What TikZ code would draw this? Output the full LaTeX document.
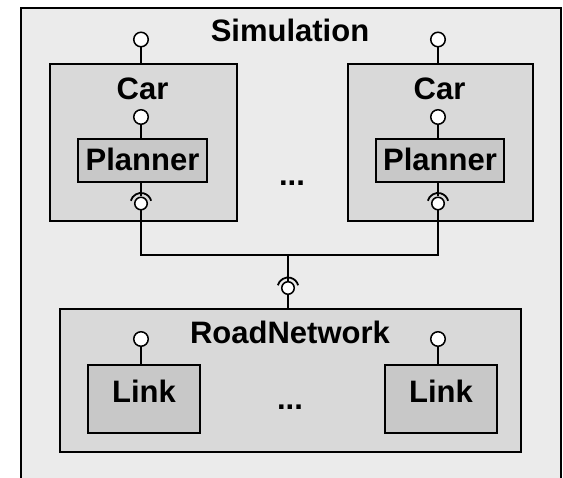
\documentclass[tikz,border=0pt]{standalone}
\usepackage{fontspec}
\setmainfont{Liberation Sans}
\definecolor{simfill}{HTML}{EBEBEB}
\definecolor{carfill}{HTML}{D9D9D9}
\definecolor{planfill}{HTML}{C8C8C8}
\begin{document}
\begin{tikzpicture}[x=1pt,y=1pt,
  every node/.style={font=\fontsize{31}{34}\selectfont\bfseries},
  box/.style={draw=black, line width=1.7pt, inner sep=0pt},
  ball/.style={circle, draw, fill=white, line width=1.5pt, minimum size=14.5pt, inner sep=0pt},
  sball/.style={circle, draw, fill=white, line width=1.5pt, minimum size=12.5pt, inner sep=0pt},
  wire/.style={line width=1.5pt},
  sock/.style={line width=1.8pt}]
\clip (0,0) rectangle (563,478);
\node[box, fill=simfill, line width=2.3pt, minimum width=540pt, minimum height=520pt, anchor=north west] (sim) at (20,471) {};
\node[anchor=base] (simtxt) at (290,436.5) {Simulation};
% left car
\node[box, fill=carfill, minimum width=187pt, minimum height=157pt] (car1) at (143.5,335.5) {};
\node[anchor=base] (cartxt1) at (142.5,378.5) {Car};
\node[ball] (pt1) at (141,438.5) {};
\draw[wire] (pt1) -- (pt1 |- car1.north);
\node[box, fill=planfill, minimum width=129pt, text height=31.5pt, text depth=12pt] (plan1) at (142.5,317.5) {Planner};
\node[ball] (pi1) at (141,361) {};
\draw[wire] (pi1) -- (pi1 |- plan1.north);
\node[sball] (sb1) at (141,274.5) {};
\draw[wire] (plan1.south -| sb1) -- (sb1);
\draw[sock] ([shift={(165:10.5)}]sb1.center) arc (165:15:10.5);
% right car
\node[box, fill=carfill, minimum width=185pt, minimum height=157pt] (car2) at (440.5,335.5) {};
\node[anchor=base] (cartxt2) at (439.5,378.5) {Car};
\node[ball] (pt2) at (438,438.5) {};
\draw[wire] (pt2) -- (pt2 |- car2.north);
\node[box, fill=planfill, minimum width=128pt, text height=31.5pt, text depth=12pt] (plan2) at (440,317.5) {Planner};
\node[ball] (pi2) at (438,361) {};
\draw[wire] (pi2) -- (pi2 |- plan2.north);
\node[sball] (sb2) at (438,274.5) {};
\draw[wire] (plan2.south -| sb2) -- (sb2);
\draw[sock] ([shift={(165:10.5)}]sb2.center) arc (165:15:10.5);
\node[anchor=base] (dots1) at (292,292) {...};
% bus
\coordinate (j1) at (141,223);
\coordinate (j2) at (438,223);
\coordinate (jm) at (288,223);
\draw[wire] (sb1) -- (j1) -- (j2) -- (sb2);
% road network
\node[box, fill=carfill, minimum width=461pt, minimum height=143pt] (road) at (290.5,97.5) {};
\node[anchor=base] (roadtxt) at (290,134) {RoadNetwork};
\node[sball] (sbm) at (288,190) {};
\draw[wire] (jm) -- (sbm);
\draw[wire] (sbm) -- (sbm |- road.north);
\draw[sock] ([shift={(165:10.5)}]sbm.center) arc (165:15:10.5);
\node[box, fill=planfill, minimum width=112pt, text height=37.5pt, text depth=31pt] (link1) at (144,79) {Link};
\node[ball] (pl1) at (141,139) {};
\draw[wire] (pl1) -- (pl1 |- link1.north);
\node[box, fill=planfill, minimum width=112pt, text height=37.5pt, text depth=31pt] (link2) at (441,79) {Link};
\node[ball] (pl2) at (438,139) {};
\draw[wire] (pl2) -- (pl2 |- link2.north);
\node[anchor=base] (dots2) at (290,68) {...};
\end{tikzpicture}
\end{document}
